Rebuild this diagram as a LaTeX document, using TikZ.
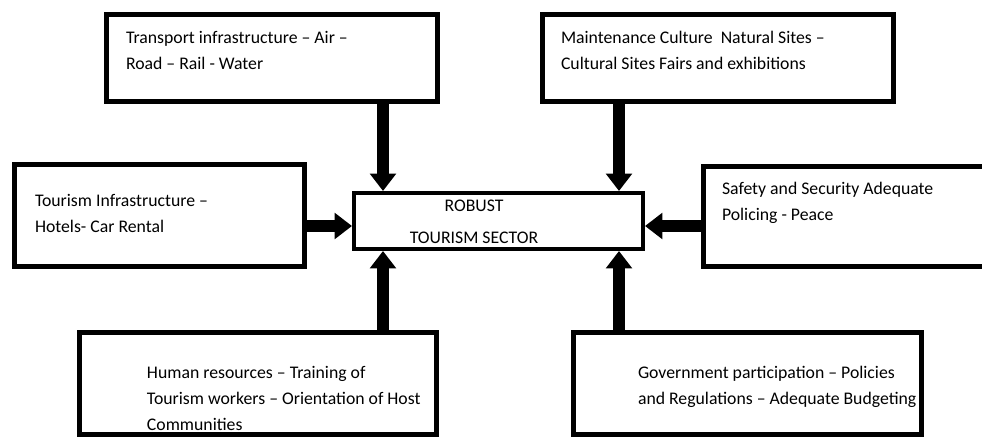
\documentclass[tikz,border=0pt]{standalone}
\usepackage{fontspec}
\setmainfont{Carlito}
\usetikzlibrary{arrows.meta}
\tikzstyle{infobox} = [draw=black, line width=3.5pt, fill=white,
    rectangle, inner sep=0pt, anchor=north west]
\tikzstyle{centerbox} = [infobox, line width=3pt]
\tikzstyle{fatarrow} = [line width=9.5pt, -{Triangle[length=13pt, width=19pt]}]
% width, height, top space, left space, text
\newcommand{\boxtext}[5]{%
  \begin{minipage}[t][#2][t]{#1}
    \fontsize{13.3}{19.5}\selectfont\raggedright\leftskip=#4\relax
    \vspace*{#3}\strut #5
  \end{minipage}}

\begin{document}
\begin{tikzpicture}[x=0.75pt, y=-0.75pt]
\useasboundingbox (0,0) rectangle (982,438);
% outer boxes
\node[infobox] (transport) at (104,12) {\boxtext{248.5pt}{65.5pt}{8.6pt}{14.75pt}{Transport infrastructure – Air –\\Road – Rail - Water}};
\node[infobox] (culture) at (540,12) {\boxtext{263.5pt}{65.5pt}{8.6pt}{14pt}{Maintenance Culture~ Natural Sites –\\Cultural Sites Fairs and exhibitions}};
\node[infobox] (hotels) at (12,162) {\boxtext{217.75pt}{76.75pt}{18.35pt}{15.5pt}{Tourism Infrastructure –\\Hotels- Car Rental}};
\node[infobox] (safety) at (701,164) {\boxtext{232pt}{75.25pt}{7.85pt}{14pt}{Safety and Security Adequate\\Policing - Peace}};
\node[infobox] (human) at (77,330) {\boxtext{268pt}{76.75pt}{21.35pt}{50.75pt}{Human resources – Training of\\Tourism workers – Orientation of Host\\Communities}};
\node[infobox] (government) at (571,330) {\boxtext{261.25pt}{76.75pt}{21.35pt}{48.5pt}{Government participation – Policies\\and Regulations – Adequate Budgeting}};
% centre
\node[centerbox] (robust) at (352,191) {%
  \begin{minipage}[t][42pt][t]{216.75pt}
    \fontsize{13.3}{19.5}\selectfont\centering\rightskip=36.75pt plus 1fil\relax
    \strut ROBUST\\[5pt]TOURISM SECTOR
  \end{minipage}};
% arrows
\draw[fatarrow] (transport.south -| 383,0) -- (robust.north -| 383,0);
\draw[fatarrow] (culture.south -| 619,0) -- (robust.north -| 619,0);
\draw[fatarrow] (hotels.east |- 0,226) -- (robust.west |- 0,226);
\draw[fatarrow] (safety.west |- 0,226) -- (robust.east |- 0,226);
\draw[fatarrow] (human.north -| 383,0) -- (robust.south -| 383,0);
\draw[fatarrow] (government.north -| 619,0) -- (robust.south -| 619,0);
\end{tikzpicture}
\end{document}
